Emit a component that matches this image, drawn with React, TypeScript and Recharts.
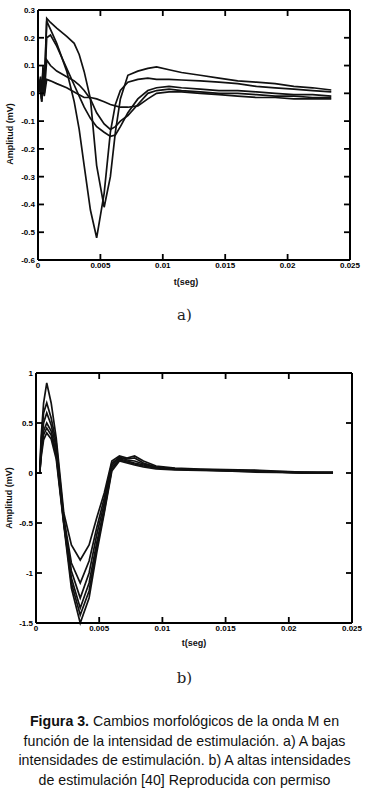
import React from 'react';
import { LineChart, Line, XAxis, YAxis } from 'recharts';

// ---- a) low stimulation intensities ----
const timeA = [
  0, 0.0002, 0.0003, 0.0004, 0.0005, 0.0007, 0.001, 0.0015, 0.0023, 0.0029, 0.0033, 0.0037,
  0.0042, 0.0047, 0.0053, 0.0058, 0.0062, 0.0066, 0.0072, 0.008, 0.0088, 0.0095, 0.0105,
  0.0115, 0.013, 0.0145, 0.016, 0.0175, 0.019, 0.0205, 0.022, 0.0235,
];
const waveA1 = [
  0, 0.06, -0.02, 0.1, 0.0, 0.26, 0.23, 0.18, 0.08, -0.03, -0.13, -0.26,
  -0.42, -0.52, -0.36, -0.14, -0.04, 0.01, 0.04, 0.05, 0.055, 0.05, 0.05,
  0.048, 0.045, 0.04, 0.035, 0.025, 0.02, 0.015, 0.01, 0.005,
];
const waveA2 = [
  0, 0.04, -0.02, 0.08, 0.02, 0.27, 0.255, 0.235, 0.205, 0.18, 0.14, 0.078,
  -0.02, -0.26, -0.41, -0.3, -0.14, -0.02, 0.065, 0.08, 0.09, 0.095, 0.085,
  0.075, 0.065, 0.055, 0.045, 0.04, 0.035, 0.025, 0.02, 0.012,
];
const waveA3 = [
  0, 0.05, -0.03, 0.09, 0.01, 0.2, 0.21, 0.17, 0.09, 0.03, -0.01, -0.05,
  -0.09, -0.12, -0.14, -0.155, -0.15, -0.12, -0.07, -0.02, 0.01, 0.02, 0.025,
  0.02, 0.015, 0.01, 0.01, 0.005, 0.0, -0.005, -0.005, -0.01,
];
const waveA4 = [
  0, 0.03, -0.02, 0.06, 0.0, 0.12, 0.1, 0.08, 0.06, 0.045, 0.03, 0.01,
  -0.02, -0.07, -0.11, -0.13, -0.12, -0.1, -0.08, -0.04, 0.0, 0.01, 0.015,
  0.01, 0.005, 0.0, 0.0, -0.005, -0.01, -0.01, -0.015, -0.015,
];
const waveA5 = [
  0, 0.02, -0.03, 0.04, -0.01, 0.05, 0.045, 0.035, 0.02, 0.005, -0.005, -0.015,
  -0.015, -0.02, -0.03, -0.04, -0.045, -0.05, -0.05, -0.045, -0.02, 0.0, 0.005,
  0.005, 0.0, -0.005, -0.01, -0.015, -0.015, -0.02, -0.02, -0.02,
];
const ticksAx = [0, 0.005, 0.01, 0.015, 0.02, 0.025];
const ticksAy = [0.3, 0.2, 0.1, 0, -0.1, -0.2, -0.3, -0.4, -0.5, -0.6];

// ---- b) high stimulation intensities ----
const timeB = [
  0, 0.0003, 0.0004, 0.0006, 0.00085, 0.0012, 0.0016, 0.0022, 0.0028, 0.0035, 0.0042,
  0.0048, 0.0054, 0.006, 0.0066, 0.0072, 0.0078, 0.0085, 0.0095, 0.011, 0.013, 0.015,
  0.017, 0.019, 0.021, 0.0235,
];
const waveB1 = [0, 0, 0.35, 0.7, 0.9, 0.7, 0.35, -0.4, -0.72, -0.87, -0.72, -0.45, -0.2, 0.12, 0.17, 0.15, 0.17, 0.12, 0.07, 0.05, 0.04, 0.035, 0.03, 0.02, 0.01, 0.01];
const waveB2 = [0, 0, 0.3, 0.6, 0.7, 0.55, 0.3, -0.45, -0.9, -1.1, -0.88, -0.55, -0.25, 0.1, 0.15, 0.14, 0.15, 0.1, 0.06, 0.045, 0.035, 0.03, 0.025, 0.015, 0.008, 0.005];
const waveB3 = [0, 0, 0.25, 0.5, 0.6, 0.48, 0.25, -0.47, -0.98, -1.25, -1.0, -0.62, -0.3, 0.08, 0.16, 0.13, 0.12, 0.09, 0.06, 0.04, 0.03, 0.03, 0.02, 0.01, 0.005, 0.0];
const waveB4 = [0, 0, 0.2, 0.42, 0.5, 0.42, 0.2, -0.5, -1.05, -1.35, -1.1, -0.7, -0.35, 0.06, 0.14, 0.12, 0.1, 0.08, 0.05, 0.04, 0.03, 0.025, 0.02, 0.01, 0.0, 0.0];
const waveB5 = [0, 0, 0.18, 0.38, 0.45, 0.38, 0.17, -0.5, -1.1, -1.42, -1.18, -0.75, -0.38, 0.04, 0.13, 0.11, 0.09, 0.07, 0.05, 0.035, 0.03, 0.02, 0.015, 0.01, 0.0, 0.005];
const waveB6 = [0, 0, 0.15, 0.33, 0.4, 0.34, 0.14, -0.52, -1.15, -1.5, -1.25, -0.8, -0.4, 0.02, 0.12, 0.1, 0.08, 0.06, 0.04, 0.03, 0.025, 0.02, 0.01, 0.005, 0.0, 0.0];
const ticksBx = [0, 0.005, 0.01, 0.015, 0.02, 0.025];
const ticksBy = [1, 0.5, 0, -0.5, -1, -1.5];

const buildRows = (t: number[], waves: number[][]) =>
  t.map((x, i) => {
    const row: any = { t: x };
    waves.forEach((w, k) => (row['w' + k] = w[i]));
    return row;
  });

const dataA = buildRows(timeA, [waveA1, waveA2, waveA3, waveA4, waveA5]);
const dataB = buildRows(timeB, [waveB1, waveB2, waveB3, waveB4, waveB5, waveB6]);

const font = 'Liberation Sans, Arial, sans-serif';
const fmtA = (v: number) => (v === 0 ? '0' : v.toFixed(1));
const fmtPlain = (v: number) => String(v);

interface PanelProps {
  data: any[];
  count: number;
  xTicks: number[];
  yTicks: number[];
  yDomain: [number, number];
  yFmt: (v: number) => string;
  yWidth: number;
  right: number;
}

const Panel: React.FC<PanelProps> = ({ data, count, xTicks, yTicks, yDomain, yFmt, yWidth, right }) => {
  const plotLeft = yWidth;
  const plotRight = 369 - right;
  // ticks point inward on both opposite sides of the box
  const XTick = (p: any) => (
    <g>
      <line x1={p.x} x2={p.x} y1={260} y2={254} stroke="black" strokeWidth={1.8} />
      <line x1={p.x} x2={p.x} y1={10} y2={16} stroke="black" strokeWidth={1.8} />
      <text x={p.x} y={262} dy="0.71em" textAnchor="middle" fontSize={8} fontWeight={700} fontFamily={font} fill="black">
        {fmtPlain(p.payload.value)}
      </text>
    </g>
  );
  const YTick = (p: any) => (
    <g>
      <line x1={plotLeft} x2={plotLeft + 6} y1={p.y} y2={p.y} stroke="black" strokeWidth={1.8} />
      <line x1={plotRight - 6} x2={plotRight} y1={p.y} y2={p.y} stroke="black" strokeWidth={1.8} />
      <text x={plotLeft - 3} y={p.y} dy="0.355em" textAnchor="end" fontSize={8} fontWeight={700} fontFamily={font} fill="black">
        {yFmt(p.payload.value)}
      </text>
    </g>
  );
  return (
    <LineChart width={369} height={300} data={data} margin={{ top: 9, right: right - 1, left: 0, bottom: 20 }}>
      <XAxis dataKey="t" type="number" domain={[0, 0.025]} ticks={xTicks} interval={0} height={20} tickLine={false} tick={XTick} stroke="black" strokeWidth={2} />
      <YAxis type="number" domain={yDomain} ticks={yTicks} interval={0} width={yWidth} tickLine={false} tick={YTick} stroke="black" strokeWidth={2} />
      <XAxis xAxisId="top" orientation="top" type="number" domain={[0, 0.025]} ticks={xTicks} height={1} stroke="black" strokeWidth={2} tick={false} tickSize={-5} />
      <YAxis yAxisId="right" orientation="right" type="number" domain={yDomain} ticks={yTicks} width={1} stroke="black" strokeWidth={2} tick={false} tickSize={-5} />
      {Array.from({ length: count }, (_, k) => (
        <Line key={k} dataKey={'w' + k} type="linear" stroke="#111" strokeWidth={1.7} dot={false} isAnimationActive={false} />
      ))}
    </LineChart>
  );
};

const axisTitle: React.CSSProperties = {
  position: 'absolute',
  fontFamily: font,
  fontSize: 9,
  fontWeight: 700,
  color: '#111',
  whiteSpace: 'nowrap',
  transform: 'translate(-50%, -50%)',
};

const App: React.FC = () => (
  <div style={{ position: 'absolute', left: 0, top: 0, width: 369, height: 792, background: '#fff' }}>
    <div style={{ position: 'absolute', left: 0, top: 0 }}>
      <Panel data={dataA} count={5} xTicks={ticksAx} yTicks={ticksAy} yDomain={[-0.6, 0.3]} yFmt={fmtA} yWidth={38} right={19} />
    </div>
    <div style={{ position: 'absolute', left: 0, top: 363 }}>
      <Panel data={dataB} count={6} xTicks={ticksBx} yTicks={ticksBy} yDomain={[-1.5, 1]} yFmt={fmtPlain} yWidth={36} right={17} />
    </div>
    <div style={{ ...axisTitle, left: 10, top: 134, transform: 'translate(-50%, -50%) rotate(-90deg)' }}>Amplitud (mV)</div>
    <div style={{ ...axisTitle, left: 186, top: 282 }}>t(seg)</div>
    <div style={{ ...axisTitle, left: 9, top: 498, transform: 'translate(-50%, -50%) rotate(-90deg)' }}>Amplitud (mV)</div>
    <div style={{ ...axisTitle, left: 194, top: 643 }}>t(seg)</div>
    <div style={{ position: 'absolute', left: 0, width: 369, top: 306, textAlign: 'center', fontFamily: 'DejaVu Serif, serif', fontSize: 15, color: '#222' }}>a)</div>
    <div style={{ position: 'absolute', left: 0, width: 369, top: 669, textAlign: 'center', fontFamily: 'DejaVu Serif, serif', fontSize: 15, color: '#222' }}>b)</div>
    <div
      style={{
        position: 'absolute',
        left: 0,
        width: 369,
        top: 712,
        textAlign: 'center',
        fontFamily: font,
        fontSize: 14.2,
        lineHeight: '19.5px',
        color: '#111',
        whiteSpace: 'nowrap',
      }}
    >
      <b>Figura 3.</b> Cambios morfológicos de la onda M en
      <br />
      función de la intensidad de estimulación. a) A bajas
      <br />
      intensidades de estimulación. b) A altas intensidades
      <br />
      de estimulación [40] Reproducida con permiso
    </div>
  </div>
);

export default App;
